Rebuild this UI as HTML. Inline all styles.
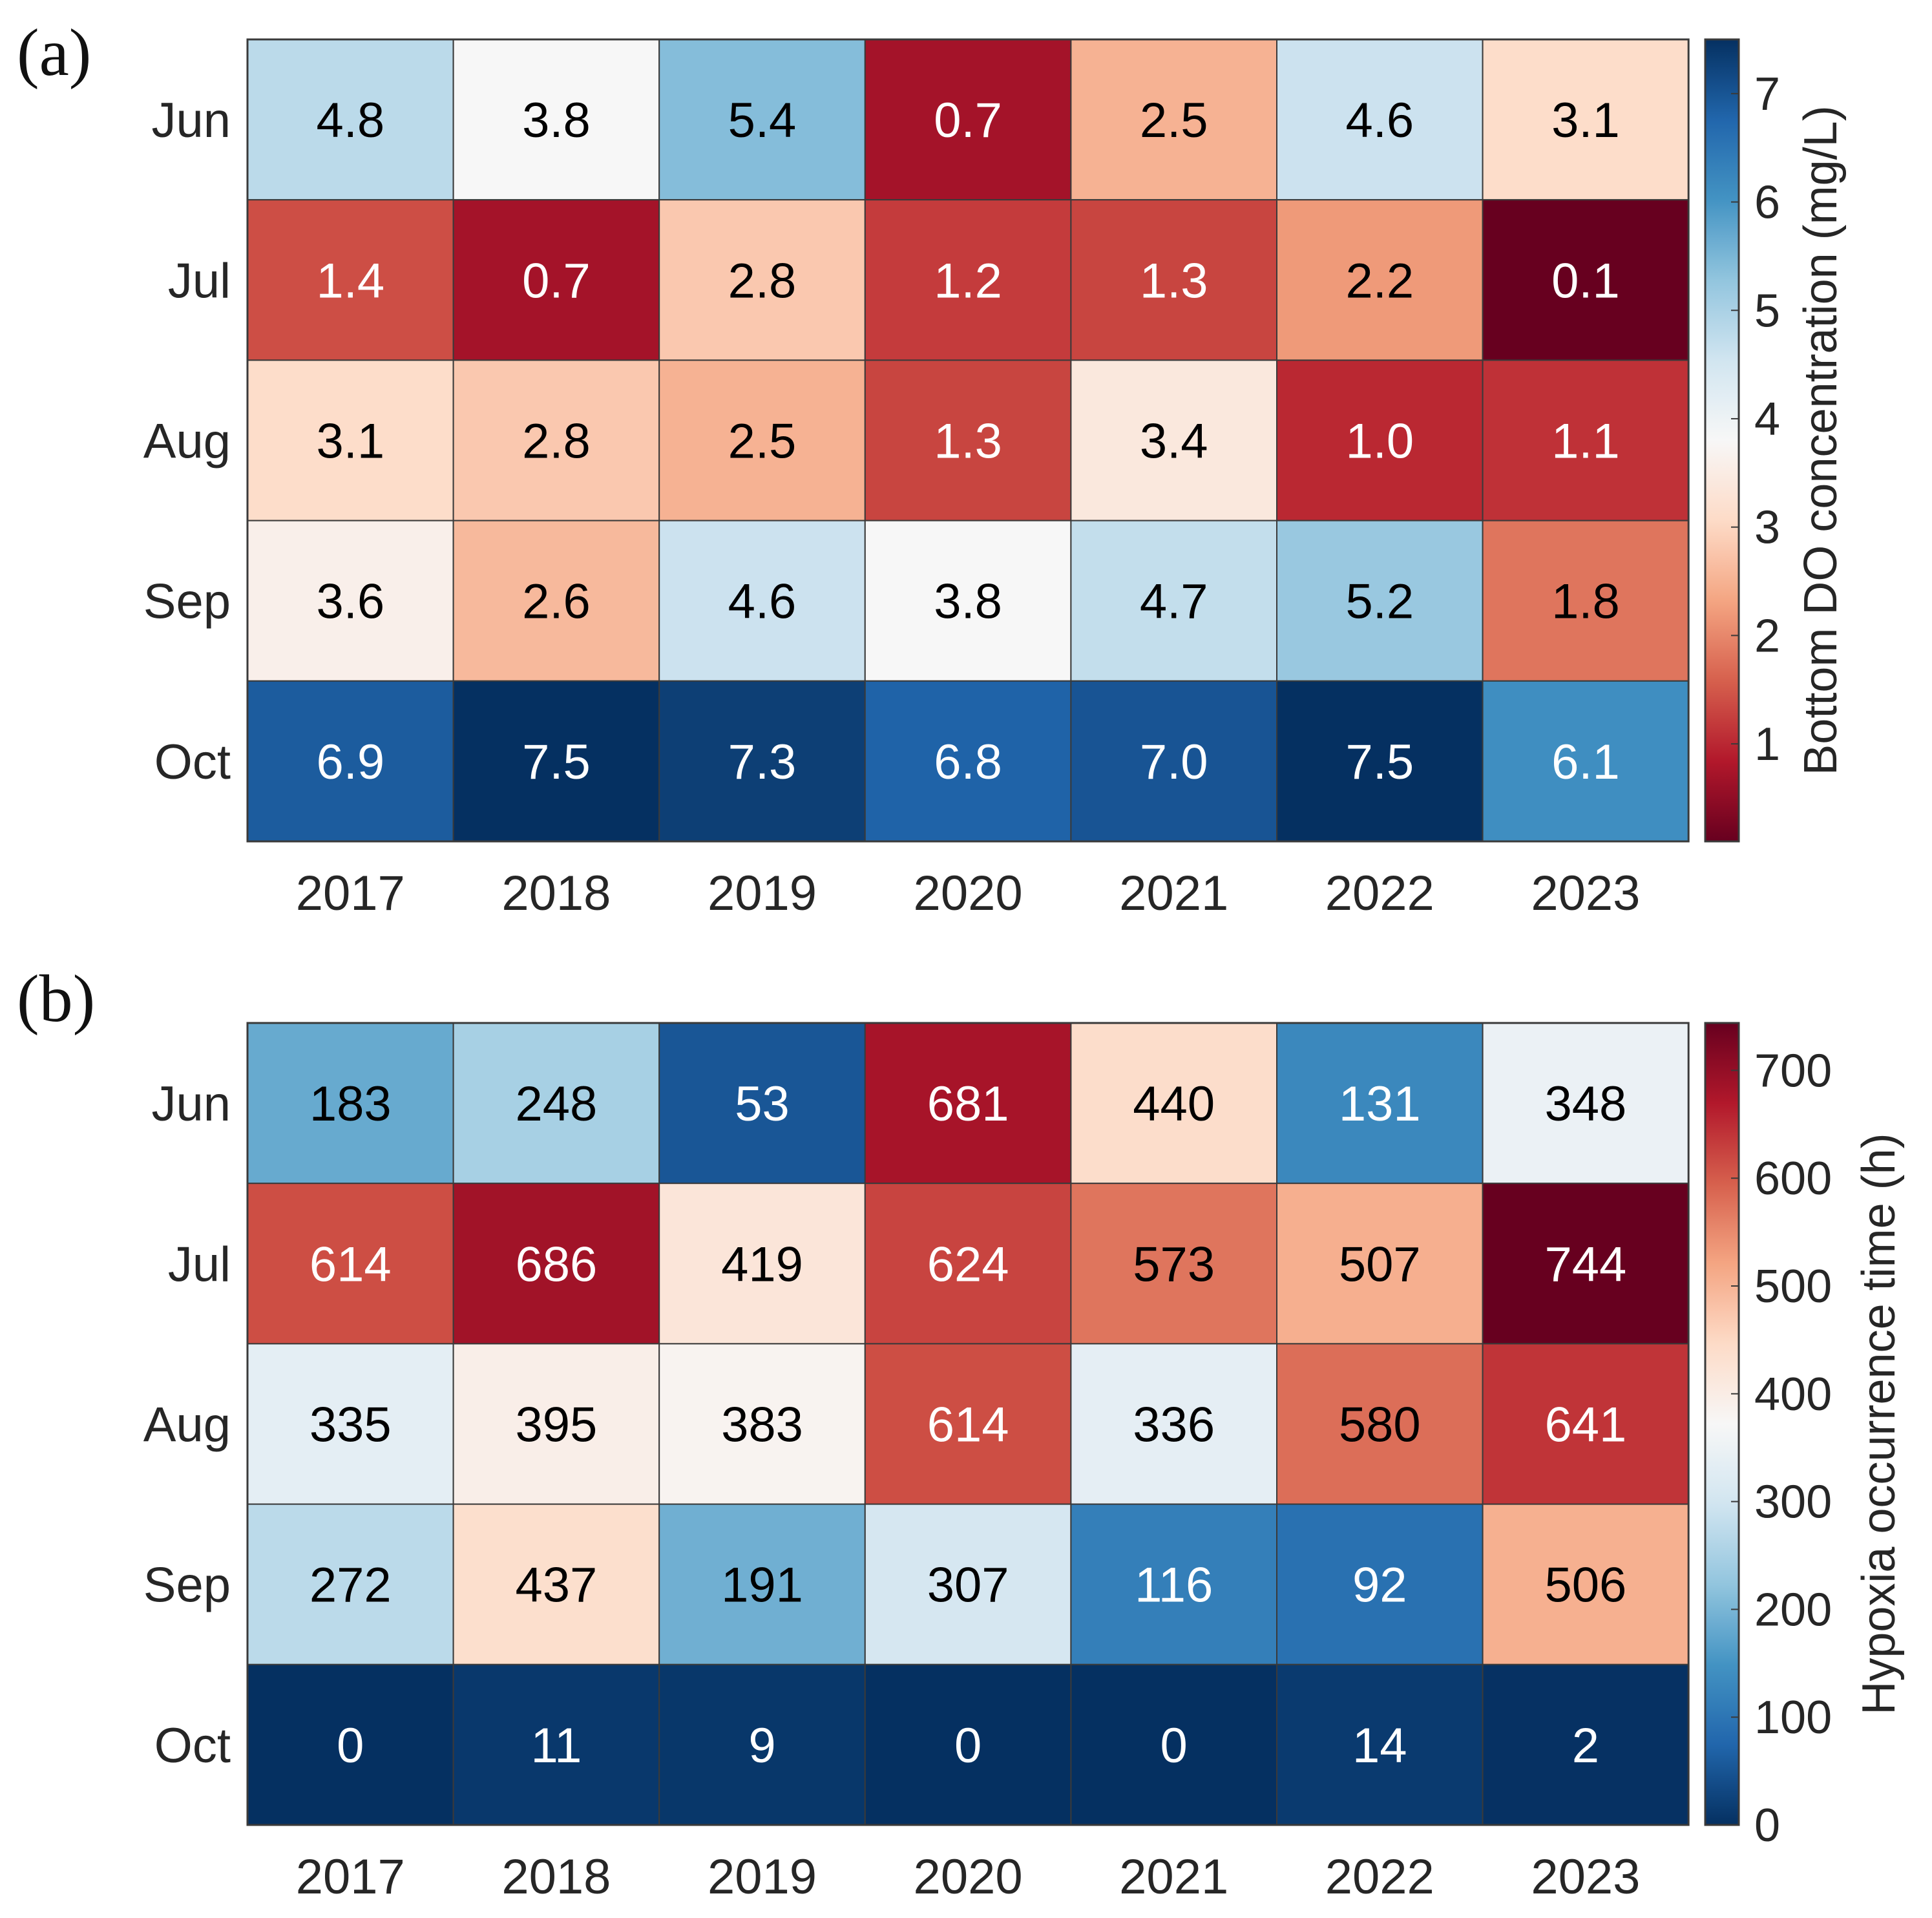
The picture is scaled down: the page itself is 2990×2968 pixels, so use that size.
<!DOCTYPE html>
<html><head><meta charset="utf-8"><style>
html,body{margin:0;padding:0;background:#fff;}
svg{display:block;font-family:"Liberation Sans",Arial,sans-serif;}
</style></head><body>
<svg id="fig" width="2990" height="2968" viewBox="0 0 2990 2968" xmlns="http://www.w3.org/2000/svg">
<defs>
<linearGradient id="gradA" x1="0" y1="1" x2="0" y2="0"></linearGradient>
<linearGradient id="gradB" x1="0" y1="1" x2="0" y2="0"></linearGradient>
</defs>
<text x="26" y="116" font-family="Liberation Serif, serif" font-size="104" fill="#111">(a)</text>
<text x="26" y="1580" font-family="Liberation Serif, serif" font-size="104" fill="#111">(b)</text>
<g id="panelA"></g>
<g id="panelB"></g>
</svg>
<script>
const years = ["2017","2018","2019","2020","2021","2022","2023"];
const months = ["Jun","Jul","Aug","Sep","Oct"];
const doValues = [
  [4.8,3.8,5.4,0.7,2.5,4.6,3.1],
  [1.4,0.7,2.8,1.2,1.3,2.2,0.1],
  [3.1,2.8,2.5,1.3,3.4,1.0,1.1],
  [3.6,2.6,4.6,3.8,4.7,5.2,1.8],
  [6.9,7.5,7.3,6.8,7.0,7.5,6.1]
];
const hypoxiaValues = [
  [183,248,53,681,440,131,348],
  [614,686,419,624,573,507,744],
  [335,395,383,614,336,580,641],
  [272,437,191,307,116,92,506],
  [0,11,9,0,0,14,2]
];
const doTicks = [1,2,3,4,5,6,7];
const hypoxiaTicks = [0,100,200,300,400,500,600,700];
const doRange = [0.1,7.5];
const hypoxiaRange = [0,744];

const NS="http://www.w3.org/2000/svg";
const RDBU=["#67001f","#b2182b","#d6604d","#f4a582","#fddbc7","#f7f7f7","#d1e5f0","#92c5de","#4393c3","#2166ac","#053061"];
function hex(c){return [parseInt(c.slice(1,3),16),parseInt(c.slice(3,5),16),parseInt(c.slice(5,7),16)];}
function cmap(t){
  t=Math.max(0,Math.min(1,t));
  const p=t*(RDBU.length-1), i=Math.min(Math.floor(p),RDBU.length-2), f=p-i;
  const a=hex(RDBU[i]), b=hex(RDBU[i+1]);
  return "rgb("+a.map((v,k)=>Math.round(v+(b[k]-v)*f)).join(",")+")";
}
function mk(tag,attrs,parent){const e=document.createElementNS(NS,tag);for(const k in attrs)e.setAttribute(k,attrs[k]);parent.appendChild(e);return e;}

function buildPanel(g,gradId,values,ticks,range,lowRed,top,title,fmt,titleX,namePrefix){
  const left=383,cw=318.6,rh=248.2,right=left+cw*years.length,bottom=top+rh*months.length;
  const norm=v=>(v-range[0])/(range[1]-range[0]);
  const colorT=v=>lowRed?norm(v):1-norm(v);
  const xPos=c=>left+c*cw, yPos=r=>top+r*rh;
  values.forEach((row,r)=>row.forEach((v,c)=>{
    const rect=mk("rect",{x:xPos(c),y:yPos(r),width:cw,height:rh,fill:cmap(colorT(v)),stroke:"#3a3a3a","stroke-width":2},g);
    
    
    const t=norm(v);
    const tx=mk("text",{x:xPos(c)+cw/2,y:yPos(r)+rh/2+27,"text-anchor":"middle","font-size":76,fill:(t<0.2||t>0.8)?"#fff":"#000"},g);
    tx.textContent=fmt(v);
    
    
  }));
  const frame=mk("rect",{x:left,y:top,width:right-left,height:bottom-top,fill:"none",stroke:"#3a3a3a","stroke-width":3},g);
  
  
  months.forEach((m,r)=>{
    const t=mk("text",{x:357,y:yPos(r)+rh/2+27,"text-anchor":"end","font-size":76,fill:"#262626"},g);
    t.textContent=m;
    
    
  });
  years.forEach((y,c)=>{
    const t=mk("text",{x:xPos(c)+cw/2,y:bottom+106,"text-anchor":"middle","font-size":76,fill:"#262626"},g);
    t.textContent=y;
    
    
  });
  const grad=document.getElementById(gradId);
  for(let i=0;i<=40;i++){const f=i/40;mk("stop",{offset:f,"stop-color":cmap(lowRed?f:1-f)},grad);}
  const cbx=2639,cbw=52;
  const cb=mk("rect",{x:cbx,y:top,width:cbw,height:bottom-top,fill:"url(#"+gradId+")",stroke:"#3a3a3a","stroke-width":3},g);
  
  
  const cy=v=>bottom-norm(v)*(bottom-top);
  ticks.forEach(v=>{
    const l=mk("line",{x1:cbx+cbw-12,x2:cbx+cbw,y1:cy(v),y2:cy(v),stroke:"#3a3a3a","stroke-width":2},g);
    
    
    const t=mk("text",{x:2715,y:cy(v)+25,"font-size":72,fill:"#262626"},g);
    t.textContent=String(v);
    
    
  });
  const tt=mk("text",{x:titleX,y:(top+bottom)/2,"text-anchor":"middle","font-size":72,fill:"#262626",transform:"rotate(-90 "+titleX+" "+((top+bottom)/2)+")"},g);
  tt.textContent=title;
  
  
}
buildPanel(document.getElementById("panelA"),"gradA",doValues,doTicks,doRange,true,61,"Bottom DO concentration (mg/L)",v=>v.toFixed(1),2842,"do");
buildPanel(document.getElementById("panelB"),"gradB",hypoxiaValues,hypoxiaTicks,hypoxiaRange,false,1583,"Hypoxia occurrence time (h)",v=>String(v),2932,"hypoxia");
</script>
</body></html>
